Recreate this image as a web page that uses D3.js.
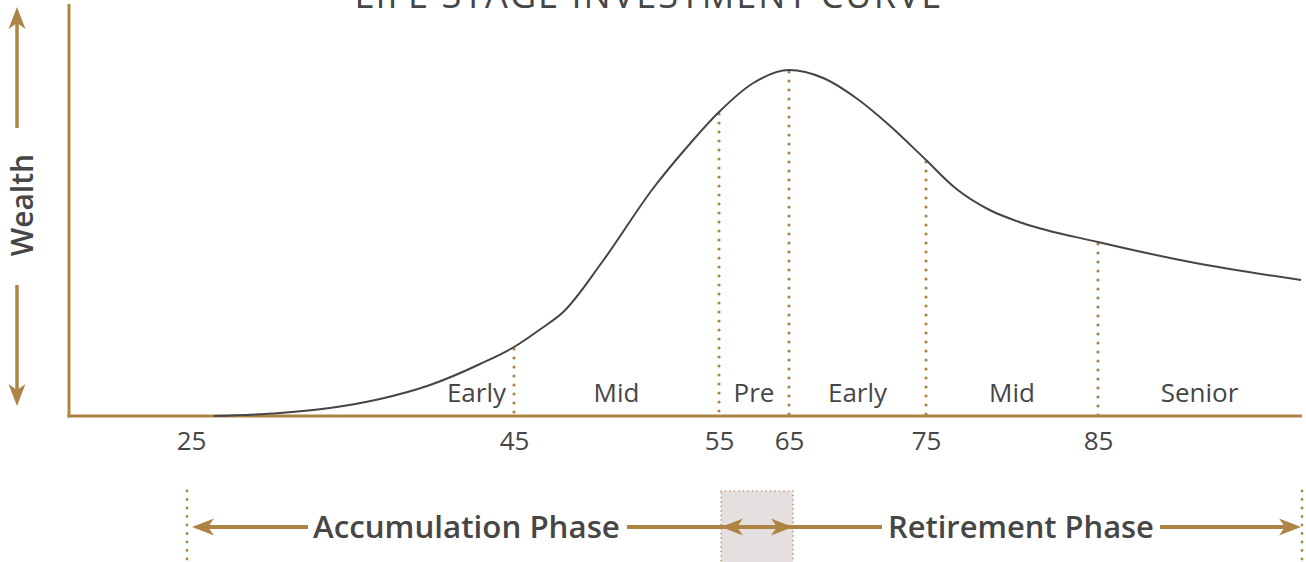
<!DOCTYPE html>
<html>
<head>
<meta charset="utf-8">
<script src="https://cdn.jsdelivr.net/npm/d3@7"></script>
<style>
  body { margin: 0; background: #fff; }
  svg { display: block; }
  text { font-family: "Open Sans", "Noto Sans", sans-serif; fill: #464646; }
</style>
</head>
<body>
<div id="chart"></div>
<script>
// wealth curve (age -> relative wealth)
var ages   = [26.4, 30.5, 33.6, 36.7, 39.8, 42.9, 45, 46.3, 47.4, 49.3, 51.8, 53.4, 55, 59.9, 65, 67.5, 69.9, 72.3, 75, 76.7, 78.7, 80.6, 85, 90, 96];
var wealth = [0, 0.75, 2, 4.25, 7.75, 13, 17.25, 21.75, 26, 38.5, 57, 67, 76, 83.25, 86.5, 84.5, 79.5, 72.75, 64, 57, 51.5, 48.25, 43.5, 38.5, 34];

var tickAges = [25, 45, 55, 65, 75, 85];
var markerAges = [45, 55, 65, 75, 85];

var stageNames  = ["Early", "Mid", "Pre", "Early", "Mid", "Senior"];
var stageStarts = [25, 45, 55, 65, 75, 85];
var stageEnds   = [45, 55, 65, 75, 85, 96];

var phaseNames = ["Accumulation Phase", "Retirement Phase"];
var title = "LIFE STAGE INVESTMENT CURVE";

var width = 1306, height = 562;
var gold = "#ae8444", ink = "#464646";

var svg = d3.select("#chart").append("svg")
    .attr("width", width)
    .attr("height", height);

// the age axis is not evenly spaced in the original, so use a piecewise scale
var x = d3.scaleLinear()
    .domain([18, 25, 45, 55, 65, 75, 85, 96])
    .range([69, 191, 514, 719, 789, 926, 1098, 1301]);
var y = d3.scaleLinear().domain([0, 100]).range([416, 16]);

var points = ages.map(function (a, i) { return { age: a, w: wealth[i] }; });

function wealthAt(age) {
    var p = points.find(function (d) { return d.age === age; });
    return p ? p.w : 0;
}

function fitWidth(sel, w) {
    var node = sel.node();
    var size = parseFloat(sel.attr("font-size"));
    var len = node.getComputedTextLength();
    sel.attr("font-size", size * w / len);
}

// title (cut off at the top, same as the original)
var t = svg.append("text")
    .attr("x", 649).attr("y", 8)
    .attr("text-anchor", "middle")
    .attr("font-size", 30)
    .attr("letter-spacing", 2)
    .attr("font-weight", 400)
    .text(title);
fitWidth(t, 600);

// dotted stage markers
svg.selectAll(".marker")
    .data(markerAges)
    .enter().append("line")
    .attr("class", "marker")
    .attr("x1", function (d) { return x(d); })
    .attr("x2", function (d) { return x(d); })
    .attr("y1", function (d) { return y(wealthAt(d)) + 2; })
    .attr("y2", y(0))
    .attr("stroke", gold)
    .attr("stroke-width", 3.2)
    .attr("stroke-linecap", "round")
    .attr("stroke-dasharray", "0 9");

// curve
var line = d3.line()
    .x(function (d) { return x(d.age); })
    .y(function (d) { return y(d.w); })
    .curve(d3.curveMonotoneX);

// axes lines
svg.append("line")
    .attr("x1", 69).attr("x2", 69)
    .attr("y1", 4).attr("y2", y(0) + 1.5)
    .attr("stroke", gold).attr("stroke-width", 3);
svg.append("line")
    .attr("x1", 67.5).attr("x2", 1302)
    .attr("y1", y(0)).attr("y2", y(0))
    .attr("stroke", gold).attr("stroke-width", 3);

svg.append("path")
    .datum(points)
    .attr("d", line)
    .attr("fill", "none")
    .attr("stroke", "#454545")
    .attr("stroke-width", 2);

// tick labels
var xAxis = d3.axisBottom(x).tickValues(tickAges).tickSize(0).tickPadding(0);
var ax = svg.append("g")
    .attr("transform", "translate(0," + y(0) + ")")
    .call(xAxis);
ax.select(".domain").remove();
ax.selectAll("text")
    .attr("dy", 0)
    .attr("y", 34)
    .attr("font-size", 26)
    .attr("font-family", "\"Open Sans\", sans-serif")
    .attr("fill", ink);

// stage labels
svg.selectAll(".stage")
    .data(stageNames)
    .enter().append("text")
    .attr("class", "stage")
    .attr("x", function (d, i) {
        return i === 0 ? x(stageEnds[i]) - 8 : (x(stageStarts[i]) + x(stageEnds[i])) / 2;
    })
    .attr("y", 402)
    .attr("text-anchor", function (d, i) { return i === 0 ? "end" : "middle"; })
    .attr("font-size", 26)
    .text(function (d) { return d; });

// wealth label with arrows
function arrowHead(tx, ty, angle) {
    // tip at (tx,ty), pointing in direction angle (degrees)
    return svg.append("path")
        .attr("d", "M0,0 L-22,-8.5 L-16,0 L-22,8.5 Z")
        .attr("transform", "translate(" + tx + "," + ty + ") rotate(" + angle + ")")
        .attr("fill", gold);
}

svg.append("text")
    .attr("transform", "translate(33,205) rotate(-90)")
    .attr("text-anchor", "middle")
    .attr("font-size", 30)
    .attr("font-weight", 600)
    .text("Wealth");
svg.append("line").attr("x1", 17).attr("x2", 17).attr("y1", 128).attr("y2", 20)
    .attr("stroke", gold).attr("stroke-width", 3.5);
arrowHead(17, 7, -90);
svg.append("line").attr("x1", 17).attr("x2", 17).attr("y1", 285).attr("y2", 395)
    .attr("stroke", gold).attr("stroke-width", 3.5);
arrowHead(17, 406, 90);

// phase band
var bandY = 527;
var boxL = x(55) + 2, boxR = x(65) + 4;

svg.append("rect")
    .attr("x", boxL).attr("y", 491)
    .attr("width", boxR - boxL).attr("height", height - 491 + 2)
    .attr("fill", "#e5e0df")
    .attr("stroke", gold)
    .attr("stroke-width", 1.5)
    .attr("stroke-linecap", "round")
    .attr("stroke-dasharray", "0 4.5");

[x(25) - 4, 1302].forEach(function (px) {
    svg.append("line")
        .attr("x1", px).attr("x2", px)
        .attr("y1", 491).attr("y2", height)
        .attr("stroke", gold)
        .attr("stroke-width", 2.8)
        .attr("stroke-linecap", "round")
        .attr("stroke-dasharray", "0 8.5");
});

var p1 = svg.append("text")
    .attr("x", 313).attr("y", 538)
    .attr("font-size", 28)
    .attr("font-weight", 600)
    .text(phaseNames[0]);
fitWidth(p1, 307);
var p2 = svg.append("text")
    .attr("x", 888).attr("y", 538)
    .attr("font-size", 28)
    .attr("font-weight", 600)
    .text(phaseNames[1]);
fitWidth(p2, 266);

var segs = [[x(25) + 10, 308], [627, 882], [1160, 1290]];
segs.forEach(function (s) {
    svg.append("line")
        .attr("x1", s[0]).attr("x2", s[1])
        .attr("y1", bandY).attr("y2", bandY)
        .attr("stroke", gold).attr("stroke-width", 4);
});
arrowHead(x(25) + 1, bandY, 180);
arrowHead(boxL, bandY, 180);
arrowHead(boxR, bandY, 0);
arrowHead(1301, bandY, 0);
</script>
</body>
</html>
